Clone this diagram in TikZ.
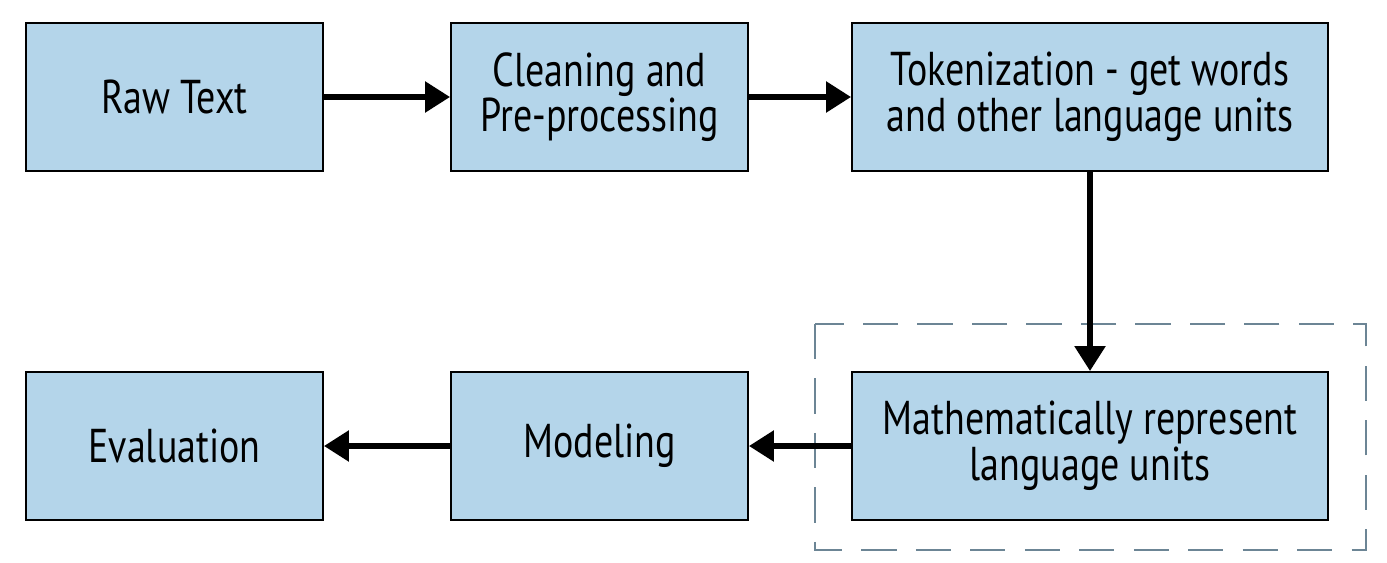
\documentclass[tikz,border=0pt]{standalone}
\usepackage{fontspec}
\setmainfont{PT Sans}[FakeStretch=0.8]
\usepackage{tikz}
\usetikzlibrary{arrows.meta,positioning}
\definecolor{boxblue}{RGB}{180,213,234}
\definecolor{dashgray}{RGB}{108,133,149}

\begin{document}
\begin{tikzpicture}[
  stage/.style={draw, line width=1.1pt, fill=boxblue, minimum width=5.94cm,
                minimum height=2.96cm, align=center,
                font=\fontsize{27}{26}\selectfont},
  wide/.style={minimum width=9.52cm},
  flow/.style={line width=3.2pt, -{Triangle[length=0.5cm,width=0.6cm]}}
]
\useasboundingbox (0,0) rectangle (27.74,-11.26);
% top row
\node[stage] (raw) at (3.49,-1.94) {Raw Text};
\node[stage] (clean) at (11.99,-1.94) {Cleaning and\\Pre-processing};
\node[stage, wide] (token) at (21.8,-1.94)
  {Tokenization - get words\\and other language units};
% bottom row
\node[stage, wide] (repr) at (21.8,-8.92)
  {Mathematically represent\\language units};
\node[stage] (model) at (11.99,-8.92) {Modeling};
\node[stage] (eval) at (3.49,-8.92) {Evaluation};
\draw[dashgray, line width=1.5pt, dash pattern=on 20pt off 11pt]
  (16.3,-6.48) rectangle (27.32,-11.0);
\draw[flow] (raw) -- (clean);
\draw[flow] (clean) -- (token);
\draw[flow] (token) -- (repr);
\draw[flow] (repr) -- (model);
\draw[flow] (model) -- (eval);
\end{tikzpicture}
\end{document}
